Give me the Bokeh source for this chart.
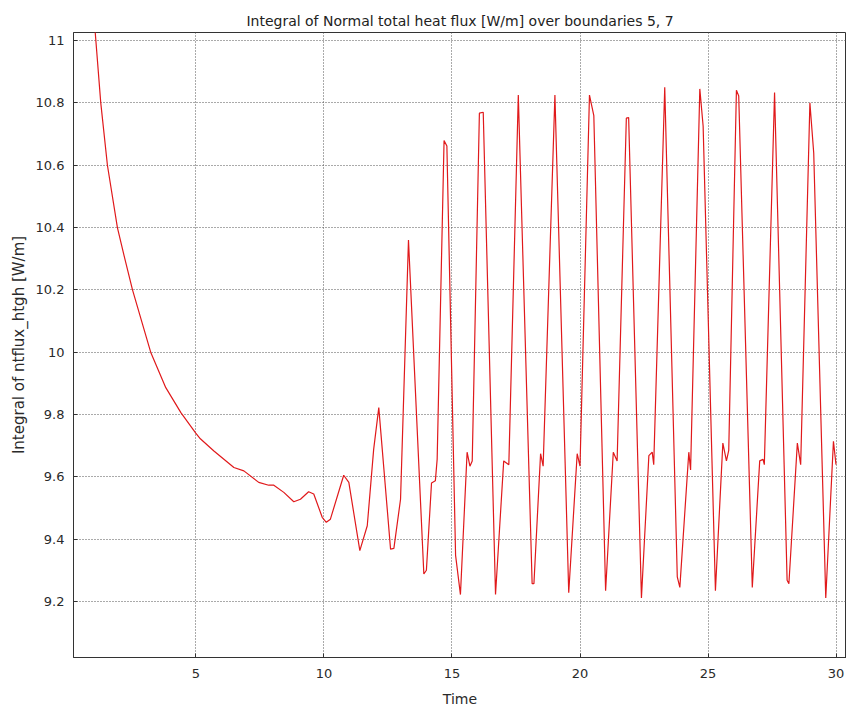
from bokeh.plotting import figure
from bokeh.models import Range1d, FixedTicker, ColumnDataSource
from bokeh.embed import file_html
from bokeh.resources import INLINE

# ---- data ----
time = [0.80, 1.06, 1.28, 1.54, 1.93, 2.19, 2.52, 2.91, 3.23, 3.82, 4.41, 4.99,
        5.17, 5.70, 6.48, 6.87, 7.45, 7.84, 8.04, 8.43, 8.82, 9.08, 9.40, 9.60,
        9.93, 10.09, 10.25, 10.77, 10.97, 11.40, 11.69, 11.94, 12.14, 12.60, 12.73,
        12.99, 13.30, 13.90, 14.00, 14.20, 14.35, 14.42, 14.69, 14.80,
        15.14, 15.33, 15.59, 15.70, 15.79, 16.07, 16.22,
        16.70, 17.02, 17.22, 17.59,
        18.13, 18.20, 18.46, 18.56, 19.02,
        19.56, 19.89, 20.00, 20.37, 20.54,
        21.00, 21.30, 21.45, 21.81, 21.90,
        22.40, 22.69, 22.82, 22.88, 23.31,
        23.80, 23.90, 24.25, 24.32, 24.68, 24.81,
        25.29, 25.58, 25.72, 25.81, 26.11, 26.20,
        26.73, 27.02, 27.15, 27.20, 27.60,
        28.09, 28.16, 28.49, 28.62, 28.98, 29.13,
        29.60, 29.90, 30.00]
flux = [11.35, 11.03, 10.80, 10.60, 10.40, 10.31, 10.20, 10.09, 10.00, 9.886, 9.806, 9.740,
        9.722, 9.683, 9.630, 9.619, 9.582, 9.573, 9.573, 9.550, 9.520, 9.528, 9.552, 9.545,
        9.470, 9.454, 9.464, 9.605, 9.582, 9.363, 9.443, 9.688, 9.822, 9.368, 9.370,
        9.528, 10.36, 9.288, 9.300, 9.580, 9.587, 9.656, 10.679, 10.662,
        9.348, 9.222, 9.679, 9.634, 9.651, 10.767, 10.770,
        9.222, 9.651, 9.639, 10.825,
        9.257, 9.257, 9.674, 9.634, 10.825,
        9.228, 9.674, 9.634, 10.825, 10.759,
        9.234, 9.679, 9.651, 10.751, 10.753,
        9.211, 9.668, 9.679, 9.639, 10.850,
        9.279, 9.245, 9.679, 9.622, 10.845, 10.725,
        9.234, 9.708, 9.651, 9.685, 10.841, 10.822,
        9.245, 9.651, 9.656, 9.639, 10.833,
        9.268, 9.257, 9.708, 9.639, 10.800, 10.639,
        9.211, 9.714, 9.639]

x_ticks = [5, 10, 15, 20, 25, 30]
x_tick_labels = ["5", "10", "15", "20", "25", "30"]
y_ticks = [9.2, 9.4, 9.6, 9.8, 10.0, 10.2, 10.4, 10.6, 10.8, 11.0]
y_tick_labels = ["9.2", "9.4", "9.6", "9.8", "10", "10.2", "10.4", "10.6", "10.8", "11"]

title_text = "Integral of Normal total heat flux [W/m] over boundaries 5, 7"
x_label = "Time"
y_label = "Integral of ntflux_htgh [W/m]"

FONT = "DejaVu Sans"
TXT = "#2a2a2a"

p = figure(width=846, height=709, output_backend="svg", toolbar_location=None,
           x_range=Range1d(0.215, 30.41), y_range=Range1d(9.02, 11.026),
           min_border_left=73, min_border_right=0, min_border_top=32,
           min_border_bottom=50, background_fill_color="white",
           border_fill_color="white")
p.outline_line_color = "#333333"
p.outline_line_width = 1

p.title.text = title_text
p.title.text_font = FONT
p.title.text_font_size = "14px"
p.title.text_font_style = "normal"
p.title.text_color = "#222222"
p.title.align = "center"
p.title.offset = 7
p.title.standoff = 8

src = ColumnDataSource(dict(t=time, v=flux))
p.line("t", "v", source=src, line_color="#e0191b", line_width=1.2)

xt = FixedTicker(ticks=x_ticks)
yt = FixedTicker(ticks=y_ticks)

for ax in (p.xaxis[0], p.yaxis[0]):
    ax.axis_line_color = "#333333"
    ax.major_tick_in = 4
    ax.major_tick_out = 0
    ax.minor_tick_line_color = None
    ax.major_tick_line_color = "#333333"
    ax.major_label_text_font = FONT
    ax.major_label_text_font_size = "13px"
    ax.major_label_text_color = TXT
    ax.axis_label_text_font = FONT
    ax.axis_label_text_font_style = "normal"
    ax.axis_label_text_color = TXT

p.xaxis[0].ticker = xt
p.xaxis[0].major_label_overrides = {t: s for t, s in zip(x_ticks, x_tick_labels)}
p.xaxis[0].axis_label = x_label
p.xaxis[0].axis_label_text_font_size = "14px"
p.xaxis[0].major_label_standoff = 11
p.xaxis[0].axis_label_standoff = 10

p.yaxis[0].ticker = yt
p.yaxis[0].major_label_overrides = {t: s for t, s in zip(y_ticks, y_tick_labels)}
p.yaxis[0].axis_label = y_label
p.yaxis[0].axis_label_text_font_size = "15px"
p.yaxis[0].major_label_standoff = 9
p.yaxis[0].axis_label_standoff = 5

for g, tk in ((p.xgrid[0], xt), (p.ygrid[0], yt)):
    g.ticker = tk
    g.grid_line_color = "#555555"
    g.grid_line_dash = "1 2"
    g.grid_line_width = 1

open("out.html", "w").write(file_html(p, INLINE))
